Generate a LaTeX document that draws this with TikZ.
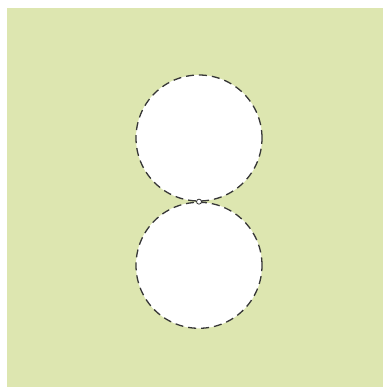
\documentclass[tikz,border=0pt]{standalone}
\usepackage{tikz}
\usetikzlibrary{positioning}

\definecolor{paper}{RGB}{221,230,176}
\definecolor{rim}{RGB}{55,55,55}

\tikzset{
  disc/.style={circle, draw=rim, fill=white, line width=1.3pt,
    dash pattern=on 8pt off 5pt, minimum size=126pt, inner sep=0pt},
  touch/.style={circle, draw=rim, fill=white, line width=0.8pt,
    minimum size=5pt, inner sep=0pt}
}

\begin{document}
\begin{tikzpicture}[x=1pt, y=-1pt]
  % page and backdrop
  \useasboundingbox (0,0) rectangle (383,387);
  \fill[paper] (7,8) rectangle (383,387);

  % two discs meeting in one point
  \node[disc] (upper) at (199,138) {};
  \node[disc, below=0pt of upper] (lower) {};
  \node[touch] (meet) at (upper.south) {};
\end{tikzpicture}
\end{document}
